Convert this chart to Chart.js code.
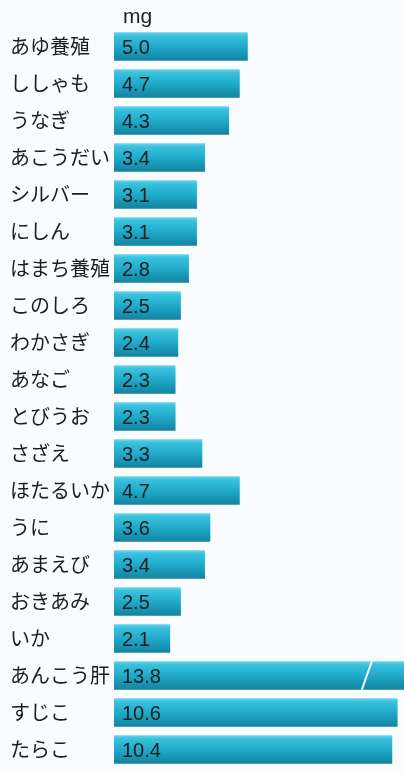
<!DOCTYPE html>
<html lang="ja">
<head>
<meta charset="utf-8">
<script src="https://cdn.jsdelivr.net/npm/chart.js@4/dist/chart.umd.min.js"></script>
<style>
  html, body { margin: 0; padding: 0; background: #f8fcfe; }
  #wrap { width: 404px; height: 773px; overflow: hidden; }
</style>
</head>
<body>
<div id="wrap"><canvas id="chart" width="404" height="780"></canvas></div>
<script>
// 食品名
const labels = ['あゆ養殖', 'ししゃも', 'うなぎ', 'あこうだい', 'シルバー', 'にしん', 'はまち養殖',
  'このしろ', 'わかさぎ', 'あなご', 'とびうお', 'さざえ', 'ほたるいか', 'うに', 'あまえび',
  'おきあみ', 'いか', 'あんこう肝', 'すじこ', 'たらこ'];
// 含有量 (mg)
const values = [5.0, 4.7, 4.3, 3.4, 3.1, 3.1, 2.8, 2.5, 2.4, 2.3, 2.3, 3.3, 4.7, 3.6, 3.4,
  2.5, 2.1, 13.8, 10.6, 10.4];
const unit = 'mg';
const axisMax = 10.84; // あんこう肝 は省略線で途中まで表示

const BAR_PCT = 0.77;

function barFill(c) {
  const ys = c.chart.scales.y;
  if (c.type !== 'data' || !ys || !c.chart.chartArea) return '#27a9c7';
  const cy = ys.getPixelForValue(c.dataIndex);
  const h = (ys.height / labels.length) * BAR_PCT;
  const g = c.chart.ctx.createLinearGradient(0, cy - h / 2, 0, cy + h / 2);
  g.addColorStop(0, '#6ed5ea');
  g.addColorStop(0.12, '#38c2de');
  g.addColorStop(0.5, '#22aaca');
  g.addColorStop(0.85, '#158fae');
  g.addColorStop(1, '#1a8199');
  return g;
}

// 棒の中の数値、単位、省略線
const decorations = {
  id: 'decorations',
  afterDatasetsDraw(chart) {
    const { ctx, scales: { x } } = chart;
    const meta = chart.getDatasetMeta(0);
    ctx.save();
    ctx.font = '20px "Liberation Sans", Arial, sans-serif';
    ctx.fillStyle = '#1a1c1e';
    ctx.textBaseline = 'alphabetic';
    ctx.textAlign = 'left';
    meta.data.forEach((bar, i) => {
      ctx.fillText(values[i].toFixed(1), bar.base + 8, bar.y + 7.5);
    });

    ctx.font = '21px "Liberation Sans", Arial, sans-serif';
    ctx.fillStyle = '#222';
    ctx.fillText(unit, x.left + 9, 23);

    // 省略線
    const i = values.indexOf(13.8);
    const bar = meta.data[i];
    const h = bar.height;
    const bx = x.getPixelForValue(9.45);
    ctx.strokeStyle = '#ffffff';
    ctx.lineWidth = 2;
    ctx.beginPath();
    ctx.moveTo(bx - 5, bar.y + h / 2);
    ctx.lineTo(bx + 5, bar.y - h / 2);
    ctx.stroke();
    ctx.restore();
  }
};

new Chart(document.getElementById('chart'), {
  type: 'bar',
  data: {
    labels: labels,
    datasets: [{
      data: values,
      backgroundColor: barFill,
      borderWidth: 0,
      barPercentage: BAR_PCT,
      categoryPercentage: 1
    }]
  },
  options: {
    indexAxis: 'y',
    responsive: false,
    animation: false,
    layout: { padding: { left: 10, right: 0, top: 28, bottom: 0 } },
    plugins: { legend: { display: false }, tooltip: { enabled: false } },
    scales: {
      x: { display: false, min: 0, max: axisMax },
      y: {
        grid: { display: false, drawTicks: false },
        border: { display: false },
        afterFit(scale) { scale.width = 104; },
        ticks: {
          crossAlign: 'far',
          padding: 0,
          color: '#1f1c1d',
          font: { family: '"Noto Sans CJK JP", sans-serif', size: 20 }
        }
      }
    }
  },
  plugins: [decorations]
});
</script>
</body>
</html>
